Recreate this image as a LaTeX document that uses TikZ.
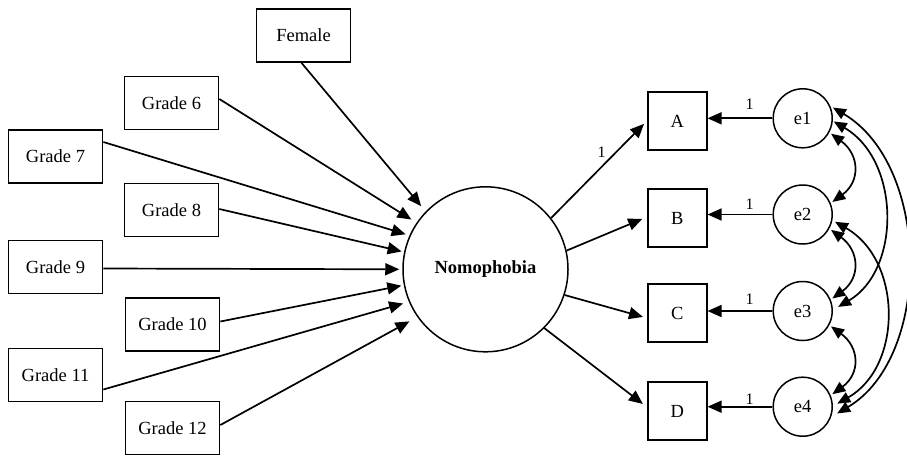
\documentclass[tikz,border=0pt]{standalone}
\usepackage{fontspec}
\setmainfont{Liberation Serif}
\usetikzlibrary{arrows.meta}
\begin{document}
\begin{tikzpicture}[x=1pt,y=-1pt,
  box/.style={draw, line width=1.7pt, minimum width=94pt, minimum height=53pt, inner sep=0pt, font=\fontsize{18.5}{20}\selectfont},
  ind/.style={draw, line width=1.7pt, minimum width=59pt, minimum height=58pt, inner sep=0pt, font=\fontsize{18.5}{20}\selectfont},
  err/.style={draw, circle, line width=1.5pt, minimum size=59pt, inner sep=0pt, font=\fontsize{18.5}{20}\selectfont},
  lat/.style={draw, circle, line width=1.5pt, minimum size=165pt, inner sep=0pt, font=\bfseries\fontsize{18.5}{20}\selectfont},
  arr/.style={-{Triangle[length=14pt,width=12pt]}, line width=1.7pt},
  cov/.style={{Triangle[length=13pt,width=11pt]}-{Triangle[length=13pt,width=11pt]}, line width=1.7pt},
  lbl/.style={font=\fontsize{16}{16}\selectfont, inner sep=0pt}
]
\useasboundingbox (0,0) rectangle (907,456);

% exogenous boxes
\node[box] (fem) at (303.5,35.5) {Female};
\node[box] (g6)  at (171.5,103)  {Grade 6};
\node[box] (g7)  at (55.5,156.5) {Grade 7};
\node[box] (g8)  at (171.5,210)  {Grade 8};
\node[box] (g9)  at (55.5,267)   {Grade 9};
\node[box] (g10) at (172.5,324.5) {Grade 10};
\node[box] (g11) at (55.5,375)   {Grade 11};
\node[box] (g12) at (172.5,428)  {Grade 12};

% latent
\node[lat] (nomo) at (485.5,269.3) {Nomophobia};

% indicators
\node[ind] (A) at (677.2,121) {A};
\node[ind] (B) at (677.2,218) {B};
\node[ind] (C) at (677.2,313) {C};
\node[ind] (D) at (677.2,411) {D};

% errors
\node[err] (e1) at (802.7,118.3) {e1};
\node[err] (e2) at (802.7,214.5) {e2};
\node[err] (e3) at (802.7,311)   {e3};
\node[err] (e4) at (802.7,406.7) {e4};

% predictors -> Nomophobia
\draw[arr, shorten >=7pt] ([xshift=-2pt]fem.south) -- (nomo.136);
\draw[arr, shorten >=6pt] ([yshift=4pt]g6.east) -- (nomo.146.6);
\draw[arr, shorten >=4pt] ([yshift=14.5pt]g7.east) -- (nomo.156.9);
\draw[arr, shorten >=2.5pt] ([yshift=1pt]g8.east) -- (nomo.168.1);
\draw[arr, shorten >=3pt] ([yshift=-1.5pt]g9.east) -- (nomo.180);
\draw[arr, shorten >=2.5pt] ([yshift=3pt]g10.east) -- (nomo.191.7);
\draw[arr, shorten >=6pt] ([yshift=-14.5pt]g11.east) -- (nomo.203.7);
\draw[arr, shorten >=9pt] ([yshift=3pt]g12.east) -- (nomo.215.3);

% loadings
\draw[arr, shorten >=4pt] (nomo.38) -- (A.west);
\draw[arr, shorten >=5pt] (nomo.13) -- ([yshift=1pt]B.west);
\draw[arr, shorten >=4pt] (nomo.-18) -- ([yshift=-5pt]C.west);
\draw[arr, shorten >=5pt] (nomo.-45) -- ([yshift=4pt]D.west);
\node[lbl] (l0) at (601.7,152) {1};

% errors -> indicators
\draw[arr] (e1.west) -- (e1.west -| A.east) node[lbl, pos=0.35, above=8pt] (l1) {1};
\draw[arr] (e2.west) -- (e2.west -| B.east) node[lbl, pos=0.35, above=4pt] (l2) {1};
\draw[arr] (e3.west) -- (e3.west -| C.east) node[lbl, pos=0.35, above=6pt] (l3) {1};
\draw[arr] (e4.west) -- (e4.west -| D.east) node[lbl, pos=0.35, above=1pt] (l4) {1};

% covariances
\draw[cov, shorten <=2pt, shorten >=2pt] (e1.-28) .. controls +(30,22) and +(30,-22) .. (e2.22);
\draw[cov, shorten <=2pt, shorten >=2pt] (e2.-28) .. controls +(30,22) and +(30,-22) .. (e3.22);
\draw[cov, shorten <=2pt, shorten >=2pt] (e3.-28) .. controls +(30,22) and +(30,-22) .. (e4.22);
\draw[cov, shorten <=1pt, shorten >=6pt] (e1.-5) .. controls +(68,40) and +(68,-40) .. (e3.2);
\draw[cov, shorten <=3pt, shorten >=5pt] (e2.-11) .. controls +(70,40) and +(70,-40) .. (e4.1);
\draw[cov, shorten <=3pt, shorten >=7pt] (e1.24) .. controls +(101,60) and +(101,-60) .. (e4.-20);
\end{tikzpicture}
\end{document}
